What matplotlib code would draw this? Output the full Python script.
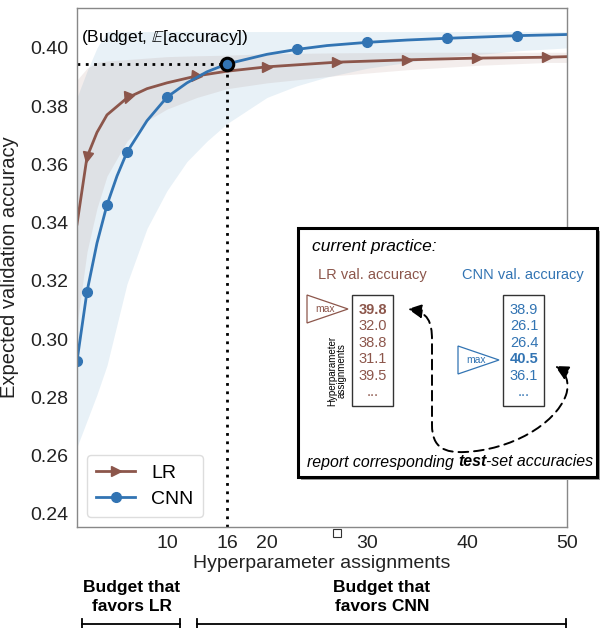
import numpy as np
import matplotlib
matplotlib.use("Agg")
import matplotlib.pyplot as plt
from matplotlib.path import Path
from matplotlib.patches import Rectangle, Polygon, FancyArrowPatch
from matplotlib.markers import MarkerStyle
from matplotlib.transforms import Affine2D

plt.rcParams['font.family'] = ['Liberation Sans', 'DejaVu Sans']
plt.rcParams['mathtext.fontset'] = 'stix'

# Curvas de acurácia esperada
cnn_x = [1, 2, 3, 4, 5, 6, 8, 10, 12, 14, 16, 20, 23, 26, 30, 34, 38, 42, 45, 50]
cnn_y = [0.2925, 0.3163, 0.333, 0.3461, 0.356, 0.3642, 0.375, 0.3831, 0.388, 0.3918,
         0.3945, 0.3978, 0.3995, 0.4008, 0.4019, 0.4027, 0.4033, 0.4038, 0.4042, 0.4046]
cnn_lo = [0.263, 0.272, 0.281, 0.291, 0.305, 0.319, 0.338, 0.351, 0.361, 0.368,
          0.374, 0.383, 0.387, 0.390, 0.393, 0.395, 0.397, 0.398, 0.399, 0.400]
cnn_hi = [0.383, 0.392, 0.400, 0.4056, 0.4056, 0.4056, 0.4056, 0.4056, 0.4056, 0.4056,
          0.4056, 0.4056, 0.4056, 0.4056, 0.4056, 0.4056, 0.4056, 0.4056, 0.4056, 0.4056]
cnn_marks = [1, 2, 4, 6, 10, 23, 30, 38, 45]

lr_x = [1, 2, 3, 4, 6, 8, 10, 13, 16, 20, 27, 34, 41, 48, 50]
lr_y = [0.3395, 0.3625, 0.371, 0.377, 0.3828, 0.386, 0.388, 0.3904, 0.392, 0.3935,
        0.3951, 0.3959, 0.3965, 0.3968, 0.397]
lr_lo = [0.305, 0.330, 0.345, 0.356, 0.368, 0.375, 0.379, 0.383, 0.386, 0.388,
         0.3905, 0.3925, 0.394, 0.395, 0.395]
lr_hi = [0.389, 0.393, 0.395, 0.3955, 0.396, 0.3965, 0.397, 0.3973, 0.3975, 0.398,
         0.3983, 0.3985, 0.3985, 0.3985, 0.3985]
lr_marks = [2, 6, 13, 20, 27, 34, 41, 48]
lr_mark_angle = [-98, -115, -5, 0, 0, 0, 0, 0]

budget = 16
budget_acc = 0.3945

xticks = [10, 16, 20, 30, 40, 50]
yticks = [0.24, 0.26, 0.28, 0.30, 0.32, 0.34, 0.36, 0.38, 0.40]

# Valores da caixa "current practice"
lr_vals = ['39.8', '32.0', '38.8', '31.1', '39.5', '...']
cnn_vals = ['38.9', '26.1', '26.4', '40.5', '36.1', '...']
lr_best = 0
cnn_best = 3

brown = '#8c564b'
blue = '#3274b3'

fig = plt.figure(figsize=(6, 6.28), dpi=100)
ax = fig.add_axes([77/600, 1-527/628, 490/600, 519/628])

ax.fill_between(cnn_x, cnn_lo, cnn_hi, color='tab:blue', alpha=0.1, lw=0)
ax.fill_between(lr_x, lr_lo, lr_hi, color='tab:brown', alpha=0.1, lw=0)

cnn_idx = [cnn_x.index(v) for v in cnn_marks]
ax.plot(lr_x, lr_y, color=brown, lw=2)
for xm, ang in zip(lr_marks, lr_mark_angle):
    ym = lr_y[lr_x.index(xm)]
    mk = MarkerStyle('>', transform=Affine2D().rotate_deg(ang))
    ax.plot([xm], [ym], color=brown, marker=mk, markersize=7.5, lw=0)
ax.plot([], [], color=brown, lw=2, marker='>', markersize=7.5, label='LR')
ax.plot(cnn_x, cnn_y, color=blue, lw=2, marker='o', markersize=7, markevery=cnn_idx, label='CNN')

ax.plot([1, budget], [budget_acc, budget_acc], color='black', lw=2, linestyle=(0, (1, 2)))
ax.plot([budget, budget], [0.2355, budget_acc], color='black', lw=2, linestyle=(0, (1, 2)))
ax.plot([budget], [budget_acc], marker='o', markersize=9, color=blue, mec='black', mew=2.2, zorder=5)
ax.text(1.4, 0.4003, r'(Budget, $\mathbb{E}$[accuracy])', fontsize=12.5, va='bottom', ha='left')

ax.set_xlim(1, 50)
ax.set_ylim(0.2355, 0.4137)
ax.set_xticks(xticks)
ax.set_yticks(yticks)
ax.set_yticklabels(['%.2f' % v for v in yticks])
ax.tick_params(length=0, labelsize=14, colors='#222222', pad=6)
for s in ax.spines.values():
    s.set_color('#888888')
    s.set_linewidth(1)
ax.set_xlabel('Hyperparameter assignments', fontsize=14, color='#222222', labelpad=2)
ax.set_ylabel('Expected validation accuracy', fontsize=14.5, color='#222222', labelpad=8)
leg = ax.legend(loc='lower left', fontsize=14, handlelength=2.0, handletextpad=0.8,
                borderpad=0.5, labelspacing=0.4, framealpha=1, edgecolor='#dddddd', fancybox=True)

# camada de anotações em coordenadas de pixel
ov = fig.add_axes([0, 0, 1, 1], zorder=10)
ov.set_xlim(0, 600)
ov.set_ylim(628, 0)
ov.axis('off')
ov.patch.set_alpha(0)

ov.add_patch(Rectangle((301, 231), 300, 249, facecolor='#9a9a9a', edgecolor='none'))
ov.add_patch(Rectangle((298, 228), 299, 249, facecolor='white', edgecolor='black', lw=2.2))
ov.text(312, 246, 'current practice:', fontsize=12.5, style='italic', va='center', ha='left')
ov.text(372, 275, 'LR val. accuracy', fontsize=10.5, color=brown, va='center', ha='center')
ov.text(523, 275, 'CNN val. accuracy', fontsize=10.5, color=blue, va='center', ha='center')

ov.add_patch(Rectangle((352, 295), 41, 111, facecolor='none', edgecolor='#333333', lw=1))
ov.add_patch(Rectangle((503, 295), 41, 111, facecolor='none', edgecolor='#333333', lw=1))
for i, (a, b) in enumerate(zip(lr_vals, cnn_vals)):
    yy = 310 + i * 16.4
    ov.text(373, yy, a, fontsize=10.5, color=brown, ha='center', va='center',
            fontweight='bold' if i == lr_best else 'normal')
    ov.text(524, yy, b, fontsize=10.5, color=blue, ha='center', va='center',
            fontweight='bold' if i == cnn_best else 'normal')

ov.add_patch(Polygon([(307, 295), (307, 323), (348, 309)], closed=True, facecolor='white',
                     edgecolor=brown, lw=0.9))
ov.text(325, 309, 'max', fontsize=7.5, color=brown, ha='center', va='center')
ov.add_patch(Polygon([(458, 346), (458, 374), (499, 360)], closed=True, facecolor='white',
                     edgecolor=blue, lw=0.9))
ov.text(476, 360, 'max', fontsize=7.5, color=blue, ha='center', va='center')
ov.text(337, 371, 'Hyperparameter\nassignments', fontsize=7, rotation=90, ha='center',
        va='center', linespacing=1.0)

verts = [(408, 309), (428, 312), (432, 322), (432, 340), (432, 425),
         (432, 448), (445, 453), (465, 452),
         (510, 450), (555, 425), (566, 395),
         (570, 383), (566, 372), (555, 366)]
codes = [Path.MOVETO, Path.CURVE4, Path.CURVE4, Path.CURVE4, Path.LINETO,
         Path.CURVE4, Path.CURVE4, Path.CURVE4,
         Path.CURVE4, Path.CURVE4, Path.CURVE4,
         Path.CURVE4, Path.CURVE4, Path.CURVE4]
arr = FancyArrowPatch(path=Path(verts, codes), arrowstyle='<|-|>,head_length=0.6,head_width=0.3',
                      mutation_scale=14, color='black', lw=1.4, linestyle=(0, (5, 3)))
ov.add_patch(arr)

t1 = ov.text(307, 462, 'report corresponding ', fontsize=11.4, style='italic', va='center', ha='left')
t2 = ov.annotate('test', xy=(1, 0), xycoords=t1, fontsize=11.4, style='italic',
                 fontweight='bold', va='bottom', ha='left')
ov.annotate('-set accuracies', xy=(1, 0), xycoords=t2, fontsize=11.4, style='italic',
            va='bottom', ha='left')

# pequeno quadrado abaixo do eixo
ov.plot([337], [533], marker='s', markersize=6, mfc='white', mec='#333333', mew=0.8)

# rótulos de orçamento
ov.text(132, 597, 'Budget that\nfavors LR', fontsize=12.5, fontweight='bold', ha='center',
        va='center', linespacing=1.3)
ov.text(382, 597, 'Budget that\nfavors CNN', fontsize=12.5, fontweight='bold', ha='center',
        va='center', linespacing=1.3)
for x0, x1 in [(82, 180), (197, 566)]:
    ov.plot([x0, x1], [624, 624], color='black', lw=1.3)
    ov.plot([x0, x0], [619, 629], color='black', lw=1.3)
    ov.plot([x1, x1], [619, 629], color='black', lw=1.3)

fig.savefig('out.png', dpi=100)
